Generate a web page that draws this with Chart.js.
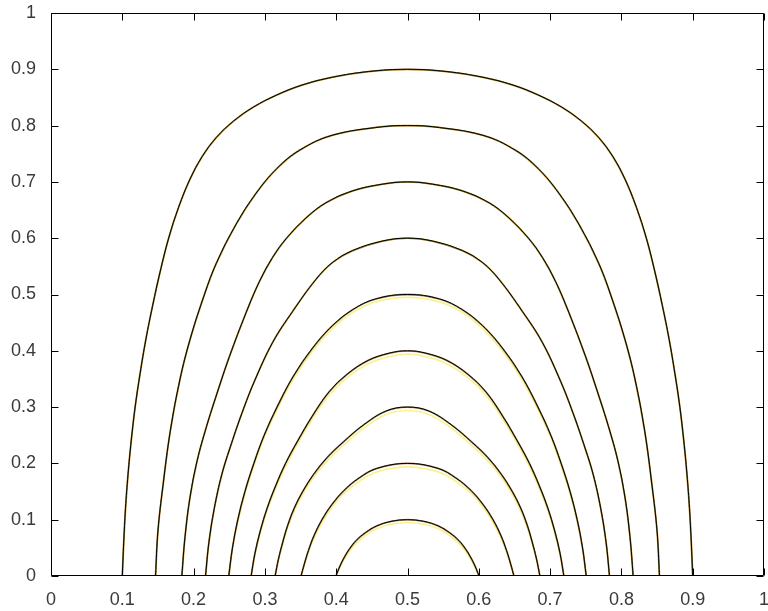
<!DOCTYPE html>
<html>
<head>
<meta charset="utf-8">
<script src="https://cdn.jsdelivr.net/npm/chart.js@4/dist/chart.umd.min.js"></script>
<style>
html,body{margin:0;padding:0;background:#fff;}
canvas{display:block;}
</style>
</head>
<body>
<canvas id="c" width="768" height="611"></canvas>
<script>
// Tick values and labels
const tickValues = [0,0.1,0.2,0.3,0.4,0.5,0.6,0.7,0.8,0.9,1];
const tickLabels = ['0','0.1','0.2','0.3','0.4','0.5','0.6','0.7','0.8','0.9','1'];

// Curve levels (peak heights)
const levels = [0.9,0.8,0.7,0.6,0.5,0.4,0.3,0.2,0.1];

// Each curve: y values (rising to the peak), x on the left branch, x on the right branch
const y90  = [0,0.06,0.12,0.18,0.24,0.30,0.36,0.42,0.48,0.54,0.60,0.655,0.705,0.745,0.779,0.808,0.833,0.854,0.872,0.886,0.896,0.9];
const xL90 = [0.100,0.102,0.1045,0.108,0.1125,0.118,0.125,0.133,0.1425,0.153,0.165,0.179,0.195,0.212,0.232,0.256,0.284,0.316,0.352,0.395,0.445,0.5];
const xR90 = [0.900,0.898,0.8955,0.892,0.8875,0.882,0.875,0.867,0.8575,0.847,0.835,0.821,0.805,0.788,0.768,0.744,0.716,0.684,0.648,0.605,0.555,0.5];

const y80  = [0,0.08,0.16,0.259,0.35,0.42,0.49,0.555,0.625,0.680,0.724,0.756,0.783,0.798,0.8];
const xL80 = [0.1466,0.150,0.157,0.1675,0.181,0.195,0.2125,0.2317,0.2597,0.2877,0.317,0.3483,0.395,0.465,0.5];
const xR80 = [0.8534,0.850,0.843,0.8325,0.819,0.805,0.7875,0.7683,0.7403,0.7123,0.683,0.6517,0.605,0.535,0.5];

const y70  = [0,0.07,0.14,0.205,0.265,0.325,0.39,0.468,0.523,0.566,0.599,0.636,0.663,0.684,0.696,0.7];
const xL70 = [0.1835,0.188,0.195,0.205,0.218,0.233,0.2503,0.2737,0.2923,0.3109,0.3297,0.3577,0.3857,0.423,0.465,0.5];
const xR70 = [0.8165,0.812,0.805,0.795,0.782,0.767,0.7497,0.7263,0.7077,0.6891,0.6703,0.6423,0.6143,0.577,0.535,0.5];

const y60  = [0,0.06,0.12,0.18,0.235,0.29,0.345,0.415,0.47,0.527,0.557,0.578,0.595,0.6];
const xL60 = [0.2167,0.2215,0.229,0.2395,0.253,0.268,0.285,0.3109,0.3389,0.3717,0.395,0.423,0.465,0.5];
const xR60 = [0.7833,0.7785,0.771,0.7605,0.747,0.732,0.715,0.6891,0.6611,0.6283,0.605,0.577,0.535,0.5];

const y50  = [0,0.05,0.10,0.15,0.20,0.25,0.30,0.355,0.405,0.445,0.473,0.492,0.5];
const xL50 = [0.2493,0.2545,0.262,0.272,0.2845,0.299,0.317,0.340,0.367,0.395,0.423,0.455,0.5];
const xR50 = [0.7507,0.7455,0.738,0.728,0.7155,0.701,0.683,0.660,0.633,0.605,0.577,0.545,0.5];

const y40  = [0,0.04,0.08,0.12,0.16,0.20,0.24,0.283,0.327,0.358,0.383,0.396,0.4];
const xL40 = [0.2807,0.286,0.2935,0.303,0.315,0.329,0.346,0.366,0.390,0.415,0.445,0.475,0.5];
const xR40 = [0.7193,0.714,0.7065,0.697,0.685,0.671,0.654,0.634,0.610,0.585,0.555,0.525,0.5];

const y30  = [0,0.03,0.06,0.09,0.12,0.15,0.18,0.21,0.238,0.268,0.293,0.3];
const xL30 = [0.3143,0.319,0.325,0.332,0.341,0.353,0.368,0.387,0.410,0.438,0.470,0.5];
const xR30 = [0.6857,0.681,0.675,0.668,0.659,0.647,0.632,0.613,0.590,0.562,0.530,0.5];

const y20  = [0,0.02,0.045,0.072,0.10,0.127,0.152,0.174,0.191,0.2];
const xL20 = [0.3507,0.355,0.361,0.369,0.380,0.394,0.411,0.432,0.457,0.5];
const xR20 = [0.6493,0.645,0.639,0.631,0.620,0.606,0.589,0.568,0.543,0.5];

const y10  = [0,0.014,0.03,0.047,0.063,0.077,0.089,0.097,0.1];
const xL10 = [0.3997,0.404,0.410,0.418,0.428,0.441,0.457,0.477,0.5];
const xR10 = [0.6003,0.596,0.590,0.582,0.572,0.559,0.543,0.523,0.5];

// Yellow trace: sits slightly lower on the inner arcs
const yY50 = [0,0.048,0.097,0.146,0.196,0.246,0.296,0.35,0.40,0.44,0.468,0.487,0.495];
const yY40 = [0,0.038,0.077,0.116,0.155,0.195,0.235,0.278,0.321,0.352,0.377,0.39,0.394];
const yY30 = [0,0.028,0.057,0.086,0.115,0.145,0.175,0.204,0.232,0.262,0.287,0.294];
const yY20 = [0,0.018,0.042,0.068,0.095,0.122,0.147,0.168,0.185,0.194];
const yY10 = [0,0.012,0.027,0.043,0.058,0.072,0.084,0.092,0.095];

const curves = [
  [y90,xL90,xR90],[y80,xL80,xR80],[y70,xL70,xR70],[y60,xL60,xR60],[y50,xL50,xR50],
  [y40,xL40,xR40],[y30,xL30,xR30],[y20,xL20,xR20],[y10,xL10,xR10]
];
const yellowCurves = [
  [y90,xL90,xR90],[y80,xL80,xR80],[y70,xL70,xR70],[y60,xL60,xR60],[yY50,xL50,xR50],
  [yY40,xL40,xR40],[yY30,xL30,xR30],[yY20,xL20,xR20],[yY10,xL10,xR10]
];

function buildPoints(c){
  const ys=c[0], xl=c[1], xr=c[2];
  const pts=[];
  for(let i=0;i<ys.length;i++) pts.push({x:xl[i], y:ys[i]});
  for(let i=ys.length-2;i>=0;i--) pts.push({x:xr[i], y:ys[i]});
  return pts;
}

const layers = [
  {set:yellowCurves, color:'rgba(240,225,0,0.42)', width:1.7, order:4},
  {set:curves,       color:'rgba(190,30,0,0.5)',   width:1.8, order:3},
  {set:curves,       color:'rgba(0,140,0,0.45)',   width:1.3, order:2},
  {set:curves,       color:'#000000',              width:1.0, order:1}
];

const datasets=[];
layers.forEach(L=>{
  L.set.forEach((c,k)=>{
    datasets.push({
      label:'level '+levels[k],
      data:buildPoints(c),
      showLine:true,
      borderColor:L.color,
      borderWidth:L.width,
      pointRadius:0,
      fill:false,
      tension:0.4,
      order:L.order
    });
  });
});

const FONT = {family:'"Liberation Sans", Arial, sans-serif', size:18};
const TICKLEN = 7;

const framePlugin = {
  id:'frame',
  afterDraw(chart){
    const ctx=chart.ctx, a=chart.chartArea, xs=chart.scales.x, ys=chart.scales.y;
    ctx.save();
    ctx.strokeStyle='#000';
    ctx.lineWidth=1;
    const L=Math.round(a.left)+0.5, R=Math.round(a.right)-0.5, T=Math.round(a.top)+0.5, B=Math.round(a.bottom)-0.5;
    ctx.beginPath();
    ctx.rect(L,T,R-L,B-T);
    tickValues.forEach(v=>{
      const px=Math.round(xs.getPixelForValue(v))+0.5;
      ctx.moveTo(px,B); ctx.lineTo(px,B-TICKLEN);
      ctx.moveTo(px,T); ctx.lineTo(px,T+TICKLEN);
      const py=Math.round(ys.getPixelForValue(v))+0.5;
      ctx.moveTo(L,py); ctx.lineTo(L+TICKLEN,py);
      ctx.moveTo(R,py); ctx.lineTo(R-TICKLEN,py);
    });
    ctx.stroke();
    ctx.restore();
  }
};

new Chart(document.getElementById('c'),{
  type:'scatter',
  data:{datasets},
  options:{
    responsive:false,
    animation:false,
    events:[],
    layout:{padding:{top:13,right:4,left:0,bottom:0}},
    plugins:{legend:{display:false},tooltip:{enabled:false}},
    scales:{
      x:{
        type:'linear',min:0,max:1,
        grid:{display:false},
        border:{display:false},
        afterBuildTicks(s){ s.ticks = tickValues.map(v=>({value:v})); },
        afterFit(s){ s.height=35; s.paddingLeft=0; s.paddingRight=0; },
        ticks:{
          color:'#3a3a3a',font:FONT,padding:5,maxRotation:0,autoSkip:false,
          callback:(v,i)=>tickLabels[i]
        }
      },
      y:{
        type:'linear',min:0,max:1,
        grid:{display:false},
        border:{display:false},
        afterBuildTicks(s){ s.ticks = tickValues.map(v=>({value:v})); },
        afterFit(s){ s.width=51; s.paddingTop=0; s.paddingBottom=0; },
        ticks:{
          color:'#3a3a3a',font:FONT,padding:7,autoSkip:false,
          callback:(v,i)=>tickLabels[i]
        }
      }
    }
  },
  plugins:[framePlugin]
});
</script>
</body>
</html>
